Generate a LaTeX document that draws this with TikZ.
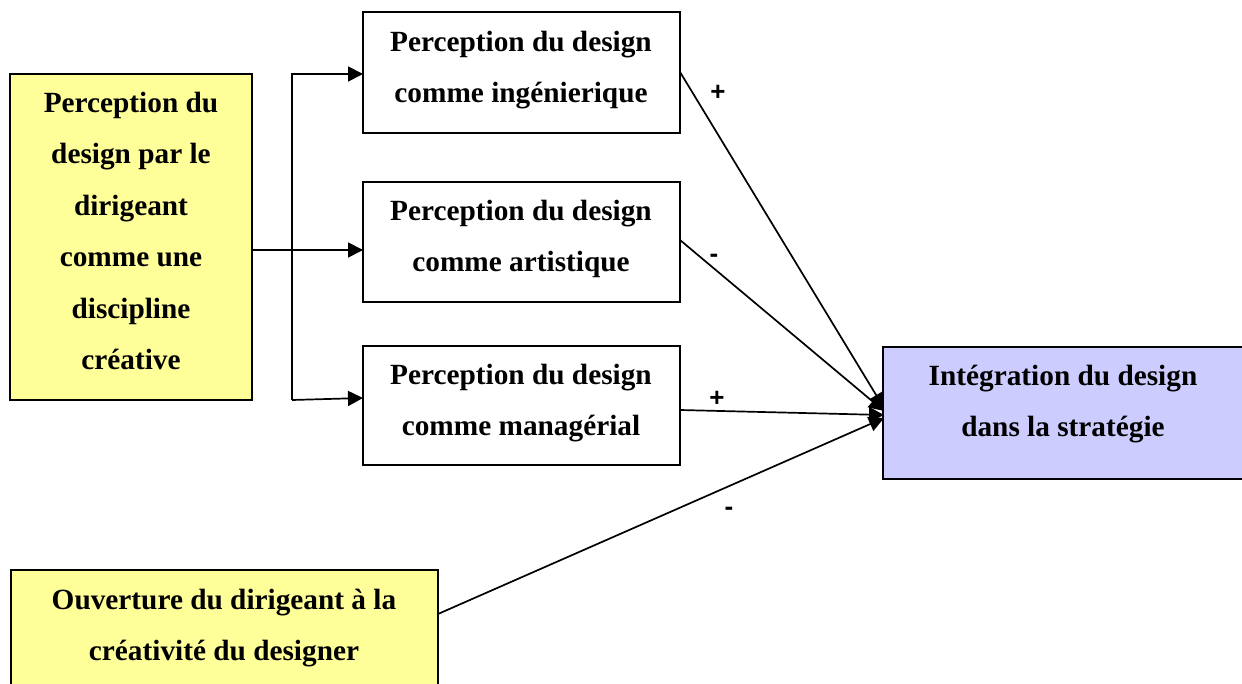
\documentclass[tikz,border=0pt]{standalone}
\usepackage{fontspec}
\setmainfont{Liberation Serif}
\newfontfamily\signfont{Liberation Sans}
\usetikzlibrary{arrows.meta}
\definecolor{boxyellow}{HTML}{FFFF99}
\definecolor{boxblue}{HTML}{CCCCFF}
\begin{document}
\begin{tikzpicture}[x=1pt,y=-1pt,
  box/.style={draw=black,line width=1.7pt,inner sep=0pt},
  lbl/.style={align=center,inner sep=0pt,font=\fontsize{29.3}{51.5}\selectfont\bfseries},
  sign/.style={inner sep=0pt,font=\fontsize{26}{26}\signfont\bfseries},
  conn/.style={line width=1.7pt},
  arr/.style={conn,-{Triangle[length=15pt,width=15pt]}}]
\useasboundingbox (0,0) rectangle (1242,684);
\begin{scope}
\clip (0,0) rectangle (1242,684);
% boxes
\draw[box,fill=boxyellow] (10,74) rectangle (252,400);
\draw[box,fill=white] (363,12) rectangle (680,133);
\draw[box,fill=white] (363,182) rectangle (680,302);
\draw[box,fill=white] (363,346) rectangle (680,465);
\draw[box,fill=boxblue] (883,347) rectangle (1252,479);
\draw[box,fill=boxyellow] (11,570) rectangle (438,700);
\end{scope}
% text nodes
\node[lbl] (tL) at (131,231) {Perception du\\design par le\\dirigeant\\comme une\\discipline\\créative};
\node[lbl] (tA) at (521,70) {Perception du design\\comme ingénierique};
\node[lbl] (tB) at (521,239) {Perception du design\\comme artistique};
\node[lbl] (tC) at (521,403) {Perception du design\\comme managérial};
\node[lbl] (tR) at (1063,404) {Intégration du design\\dans la stratégie};
\node[lbl] (tO) at (224,628) {Ouverture du dirigeant à la\\créativité du designer};
% connector coordinates
\coordinate (lout) at (252,250);
\coordinate (top) at (292,74);
\coordinate (bot) at (292,400);
\coordinate (inA) at (363,74);
\coordinate (inB) at (363,250);
\coordinate (inC) at (363,398);
\coordinate (outA) at (680,72);
\coordinate (outB) at (680,240);
\coordinate (outC) at (680,410);
\coordinate (outO) at (438,614);
\coordinate (tgtA) at (884,408);
\coordinate (tgtB) at (884,411);
\coordinate (tgtC) at (884,415);
\coordinate (tgtO) at (884,418);
% connectors
\draw[arr] (lout) -- (inB);
\draw[arr] (bot) -- (top) -- (inA);
\draw[arr] (bot) -- (inC);
\draw[arr] (outA) -- (tgtA);
\draw[arr] (outB) -- (tgtB);
\draw[arr] (outC) -- (tgtC);
\draw[arr] (outO) -- (tgtO);
% signs
\node[sign] (s1) at (718,93) {+};
\node[sign] (s2) at (714,258) {-};
\node[sign] (s3) at (717,399) {+};
\node[sign] (s4) at (729,511) {-};
\end{tikzpicture}
\end{document}
